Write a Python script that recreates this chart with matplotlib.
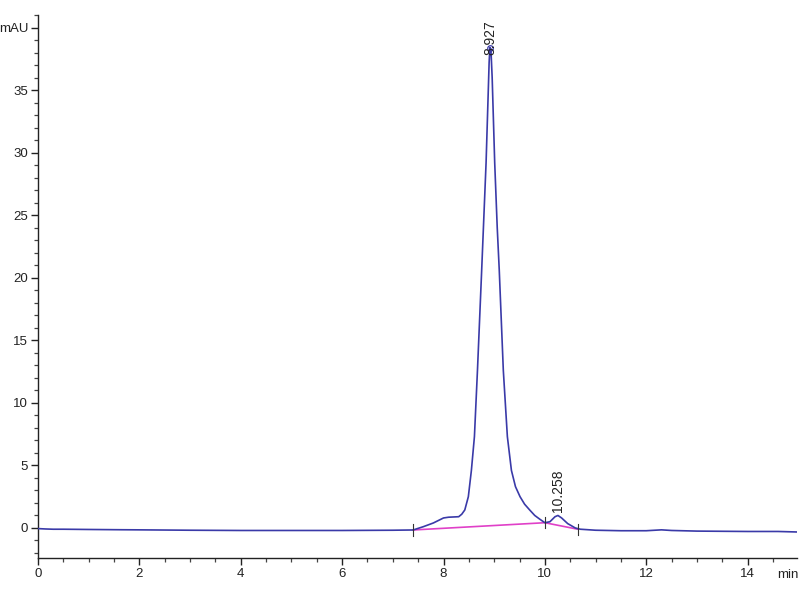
import matplotlib
matplotlib.use("Agg")
import matplotlib.pyplot as plt
from matplotlib.ticker import MultipleLocator

# Chromatogram trace (time in min, signal in mAU)
time_min = [0.0, 0.15, 0.3, 0.5, 1.0, 1.6, 2.0, 3.0, 4.0, 5.0, 6.0, 7.0, 7.4,
            7.6, 7.8, 8.0, 8.1, 8.3, 8.36, 8.42, 8.49, 8.55, 8.61, 8.67, 8.75,
            8.84, 8.88, 8.90, 8.915, 8.935, 8.96, 9.01, 9.06, 9.10, 9.18,
            9.26, 9.34, 9.42, 9.51, 9.60, 9.70, 9.80, 9.90, 10.0, 10.1, 10.2,
            10.258, 10.33, 10.45, 10.6, 10.7, 11.0, 11.5, 12.0, 12.3, 12.5,
            13.0, 14.0, 14.6, 14.97]
signal_mau = [-0.05, -0.08, -0.1, -0.1, -0.12, -0.14, -0.15, -0.18, -0.2, -0.2,
              -0.2, -0.18, -0.16, 0.1, 0.4, 0.8, 0.86, 0.9, 1.1, 1.44, 2.5,
              4.6, 7.3, 12.6, 20.3, 29.2, 34.5, 37.2, 38.4, 38.3, 36.0, 29.2,
              24.0, 20.6, 12.6, 7.3, 4.6, 3.3, 2.5, 1.9, 1.44, 1.0, 0.7, 0.42,
              0.5, 0.9, 1.0, 0.8, 0.35, 0.0, -0.1, -0.18, -0.22, -0.22, -0.15,
              -0.2, -0.25, -0.28, -0.28, -0.32]

# Integration baseline segments
base_t = [7.4, 10.0, 10.65]
base_y = [-0.16, 0.42, -0.1]

# Peak annotations
peak_t = [8.927, 10.258]
peak_y = [38.4, 1.0]
peak_labels = ["8.927", "10.258"]
label_offset = [-0.6, 0.25]

xticks = [0, 2, 4, 6, 8, 10, 12, 14]
yticks = [0, 5, 10, 15, 20, 25, 30, 35, 40]
ytick_labels = ["0", "5", "10", "15", "20", "25", "30", "35", "mAU"]

plt.rcParams['font.family'] = ['Liberation Sans', 'DejaVu Sans']

fig = plt.figure(figsize=(8, 6), dpi=100)
ax = fig.add_axes([0.0475, 0.07, 0.9485, 0.905])

line_col = '#3a3aa8'
ax.plot(base_t, base_y, color='#e040c8', lw=1.2, zorder=2)
ax.plot(time_min, signal_mau, color=line_col, lw=1.2, zorder=3)

# baseline event markers
for t, y in zip(base_t, base_y):
    ax.plot([t, t], [y - 0.45, y + 0.45], color='#333333', lw=0.8, zorder=4)

# peak apex marker
ax.plot([peak_t[0]], [peak_y[0]], marker='o', ms=4, mfc='none', mec=line_col,
        mew=0.9, zorder=4)

for t, y, lab, off in zip(peak_t, peak_y, peak_labels, label_offset):
    ax.text(t, y + off, lab, rotation=90, ha='center', va='bottom',
            fontsize=10, color='#222222', zorder=5)

ax.set_xlim(0, 14.97)
ax.set_ylim(-2.4, 41)
ax.set_xticks(xticks)
ax.set_yticks(yticks)
ax.set_yticklabels(ytick_labels)
ax.xaxis.set_minor_locator(MultipleLocator(0.5))
ax.yaxis.set_minor_locator(MultipleLocator(1))

for s in ['top', 'right']:
    ax.spines[s].set_visible(False)
for s in ['left', 'bottom']:
    ax.spines[s].set_color('#222222')
    ax.spines[s].set_linewidth(1.0)

ax.tick_params(axis='both', which='major', length=5, width=1.0,
               color='#222222', labelsize=9.5, labelcolor='#222222', pad=2)
ax.tick_params(axis='both', which='minor', length=3, width=0.9,
               color='#444444')

ax.text(14.58, -2.4 - 0.9, "min", ha='left', va='top', fontsize=9.5,
        color='#222222', clip_on=False)

fig.savefig("out.png", dpi=100)
